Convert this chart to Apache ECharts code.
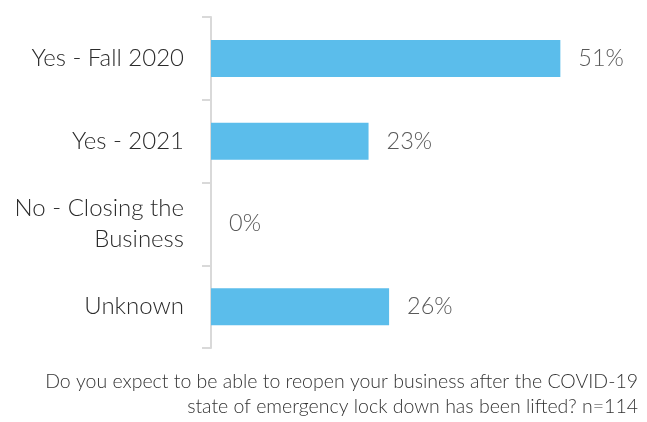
<!DOCTYPE html>
<html>
<head>
<meta charset="utf-8">
<script src="https://cdn.jsdelivr.net/npm/echarts@6/dist/echarts.min.js"></script>
<style>
  html, body { margin: 0; padding: 0; background: #ffffff; }
  #chart { width: 647px; height: 422px; }
</style>
</head>
<body>
<div id="chart"></div>
<script>
// Survey answers (percent of respondents)
const categories = ['Yes - Fall 2020', 'Yes - 2021', 'No - Closing the\nBusiness', 'Unknown'];
const shares = [51, 23, 0, 26];
const questionLines = [
  'Do you expect to be able to reopen your business after the COVID-19',
  'state of emergency lock down has been lifted? n=114'
];

const FONT = 'Lato, "Open Sans", sans-serif';
const chart = echarts.init(document.getElementById('chart'));

// Question text under the chart, each line right-aligned
const questionGraphics = questionLines.map((line, i) => ({
  type: 'text',
  right: 9,
  top: 372 + i * 25,
  style: {
    text: line,
    fill: '#333333',
    font: '300 19.5px ' + FONT
  }
}));

chart.setOption({
  animation: false,
  grid: { left: 211, top: 17, bottom: 74, right: 25, containLabel: false },
  xAxis: {
    type: 'value',
    min: 0,
    max: 60,
    show: false
  },
  yAxis: {
    type: 'category',
    inverse: true,
    data: categories,
    axisLine: { show: true, lineStyle: { color: '#d9d9d9', width: 2 } },
    axisTick: { show: true, length: 9, lineStyle: { color: '#d9d9d9', width: 2 } },
    splitLine: { show: false },
    axisLabel: {
      margin: 27,
      color: '#2b2b2b',
      fontFamily: FONT,
      fontWeight: 300,
      fontSize: 24,
      lineHeight: 31,
      align: 'right'
    }
  },
  series: [{
    type: 'bar',
    data: shares,
    barWidth: 37,
    itemStyle: { color: '#5bbdeb' },
    label: {
      show: true,
      position: 'right',
      distance: 18,
      formatter: p => p.value + '%',
      color: '#595959',
      fontFamily: FONT,
      fontWeight: 300,
      fontSize: 23.5
    }
  }],
  graphic: questionGraphics
});
</script>
</body>
</html>
